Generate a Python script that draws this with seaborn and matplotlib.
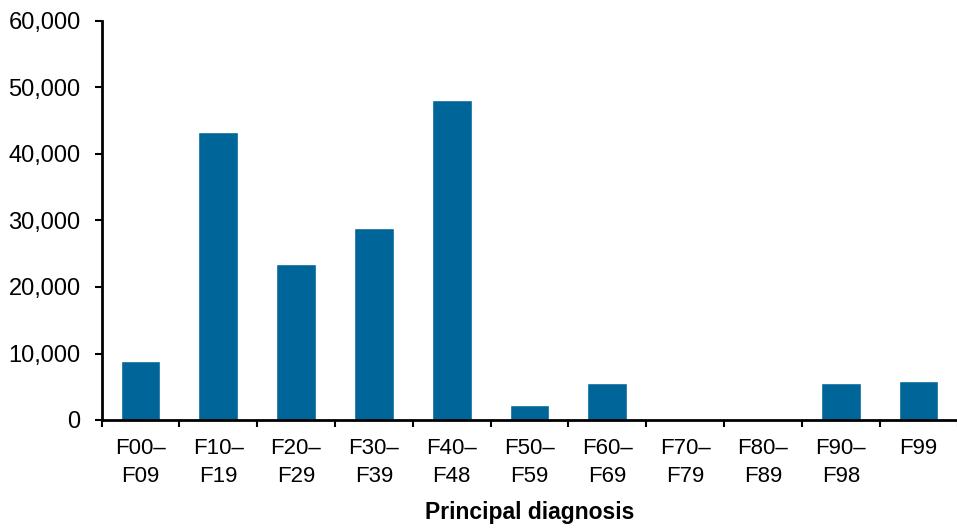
import pandas as pd
import numpy as np
import matplotlib.pyplot as plt
import seaborn as sns
from matplotlib.ticker import FuncFormatter, MultipleLocator

categories = ["F00–\nF09", "F10–\nF19", "F20–\nF29", "F30–\nF39", "F40–\nF48",
              "F50–\nF59", "F60–\nF69", "F70–\nF79", "F80–\nF89", "F90–\nF98", "F99"]
values = [8900, 43250, 23400, 28800, 48100, 2200, 5600, 0, 0, 5600, 5900]

df = pd.DataFrame({"diagnosis": categories, "count": values})

sns.set_style("ticks")
plt.rcParams["font.family"] = ["Liberation Sans", "DejaVu Sans"]
plt.rcParams["text.color"] = "black"
plt.rcParams["xtick.color"] = "black"
plt.rcParams["ytick.color"] = "black"
plt.rcParams["axes.labelcolor"] = "black"

fig = plt.figure(figsize=(9.57, 5.30), dpi=100)
ax = fig.add_axes([101.5 / 957, 110 / 530, 856 / 957, 399 / 530])

sns.barplot(data=df, x="diagnosis", y="count", color="#00669a", width=0.51,
            saturation=1, ax=ax)

ax.set_xlim(-0.5, len(categories) - 0.5)
ax.set_ylim(0, 60000)
ax.yaxis.set_major_locator(MultipleLocator(10000))
ax.yaxis.set_major_formatter(FuncFormatter(lambda v, p: f"{int(v):,}"))

# ticks sit between categories on the x axis
ax.set_xticks(np.arange(len(categories)))
ax.set_xticklabels(categories, fontsize=16, linespacing=1.42)
ax.set_xticks(np.arange(-0.5, len(categories), 1), minor=True)
ax.tick_params(axis="x", which="major", length=0, pad=13)
ax.tick_params(axis="x", which="minor", length=5, width=1.5, color="black")
ax.tick_params(axis="y", length=5, width=1.5, labelsize=17, pad=10, color="black")

for s in ["top", "right"]:
    ax.spines[s].set_visible(False)
for s in ["left", "bottom"]:
    ax.spines[s].set_linewidth(2)
    ax.spines[s].set_color("black")

ax.set_ylabel("")
ax.set_xlabel("Principal diagnosis", fontsize=16.5, fontweight="bold", labelpad=10)

fig.savefig("out.png", dpi=100)
